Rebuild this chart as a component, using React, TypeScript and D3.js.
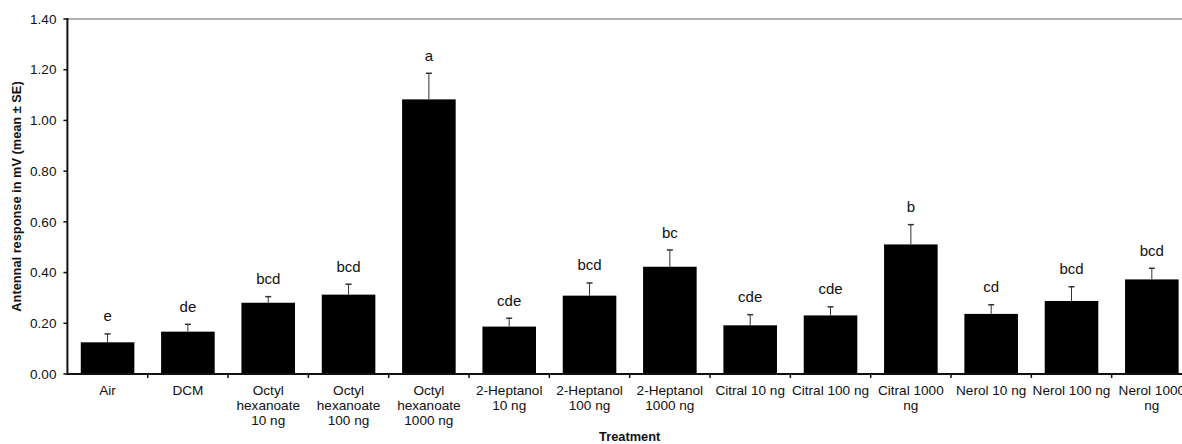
import React from "react";
import * as d3 from "d3";

// Treatments (each label split into its printed lines)
const categories: string[][] = [
  ["Air"],
  ["DCM"],
  ["Octyl", "hexanoate", "10 ng"],
  ["Octyl", "hexanoate", "100 ng"],
  ["Octyl", "hexanoate", "1000 ng"],
  ["2-Heptanol", "10 ng"],
  ["2-Heptanol", "100 ng"],
  ["2-Heptanol", "1000 ng"],
  ["Citral 10 ng"],
  ["Citral 100 ng"],
  ["Citral 1000", "ng"],
  ["Nerol 10 ng"],
  ["Nerol 100 ng"],
  ["Nerol 1000", "ng"],
];

// Mean antennal response (mV)
const means: number[] = [
  0.125, 0.167, 0.281, 0.313, 1.083, 0.187, 0.309, 0.423, 0.192, 0.231, 0.511, 0.237, 0.288, 0.373,
];

// Standard errors (mV)
const errors: number[] = [
  0.033, 0.029, 0.024, 0.041, 0.103, 0.033, 0.05, 0.066, 0.042, 0.034, 0.078, 0.036, 0.056, 0.044,
];

// Significance letters
const letters: string[] = [
  "e", "de", "bcd", "bcd", "a", "cde", "bcd", "bc", "cde", "cde", "b", "cd", "bcd", "bcd",
];

const yTicks: number[] = [0, 0.2, 0.4, 0.6, 0.8, 1.0, 1.2, 1.4];

const W = 1182;
const H = 444;
const left = 67.4;
const right = 1192;
const top = 19;
const bottom = 374;
const font = "'Liberation Sans', Arial, sans-serif";

export default function App() {
  const ids = categories.map((_, i) => String(i));
  const x = d3.scaleBand<string>().domain(ids).range([left, right]).paddingInner(0.333).paddingOuter(0.1665);
  const band = d3.scaleBand<string>().domain(ids).range([left, right]);
  const y = d3.scaleLinear().domain([0, 1.4]).range([bottom, top]);

  return (
    <svg
      width={W}
      height={H}
      style={{ position: "absolute", left: 0, top: 0, background: "#fff" }}
      fontFamily={font}
    >
      {/* frame top */}
      <line x1={left} x2={W} y1={top} y2={top} stroke="#999" strokeWidth={1.5} />

      {/* bars, error bars, letters */}
      {means.map((m, i) => {
        const id = ids[i];
        const bx = x(id)!;
        const bw = x.bandwidth();
        const cx = bx + bw / 2;
        const eTop = y(m + errors[i]);
        return (
          <g key={id}>
            <rect x={bx} y={y(m)} width={bw} height={bottom - y(m)} fill="#000" />
            <line x1={cx} x2={cx} y1={y(m)} y2={eTop} stroke="#333" strokeWidth={1} />
            <line x1={cx - 3} x2={cx + 3} y1={eTop} y2={eTop} stroke="#333" strokeWidth={1.5} />
            <text x={cx} y={eTop - 12.5} textAnchor="middle" fontSize={15} fill="#111">
              {letters[i]}
            </text>
          </g>
        );
      })}

      {/* y axis */}
      <line x1={left} x2={left} y1={top - 1} y2={bottom + 1} stroke="#111" strokeWidth={2} />
      {yTicks.map((t) => (
        <g key={t}>
          <line x1={left - 4} x2={left} y1={y(t)} y2={y(t)} stroke="#111" strokeWidth={1.5} />
          <text x={left - 11} y={y(t)} dy="0.35em" textAnchor="end" fontSize={13.5} fill="#111">
            {d3.format(".2f")(t)}
          </text>
        </g>
      ))}
      <text
        transform={`translate(21,${(top + bottom) / 2}) rotate(-90)`}
        textAnchor="middle"
        fontSize={12.8}
        fontWeight="bold"
        fill="#111"
      >
        Antennal response in mV (mean ± SE)
      </text>

      {/* x axis */}
      <line x1={left} x2={W} y1={bottom} y2={bottom} stroke="#111" strokeWidth={2} />
      {ids.map((id, i) => {
        const bx = band(id)!;
        const cx = bx + band.bandwidth() / 2;
        return (
          <g key={id}>
            <line x1={bx + band.bandwidth()} x2={bx + band.bandwidth()} y1={bottom} y2={bottom + 4} stroke="#111" strokeWidth={1.5} />
            {categories[i].map((line, j) => (
              <text key={j} x={cx} y={394.5 + j * 15} textAnchor="middle" fontSize={13.6} fill="#111">
                {line}
              </text>
            ))}
          </g>
        );
      })}
      <text x={(left + right) / 2} y={441} textAnchor="middle" fontSize={12.8} fontWeight="bold" fill="#111">
        Treatment
      </text>
    </svg>
  );
}
